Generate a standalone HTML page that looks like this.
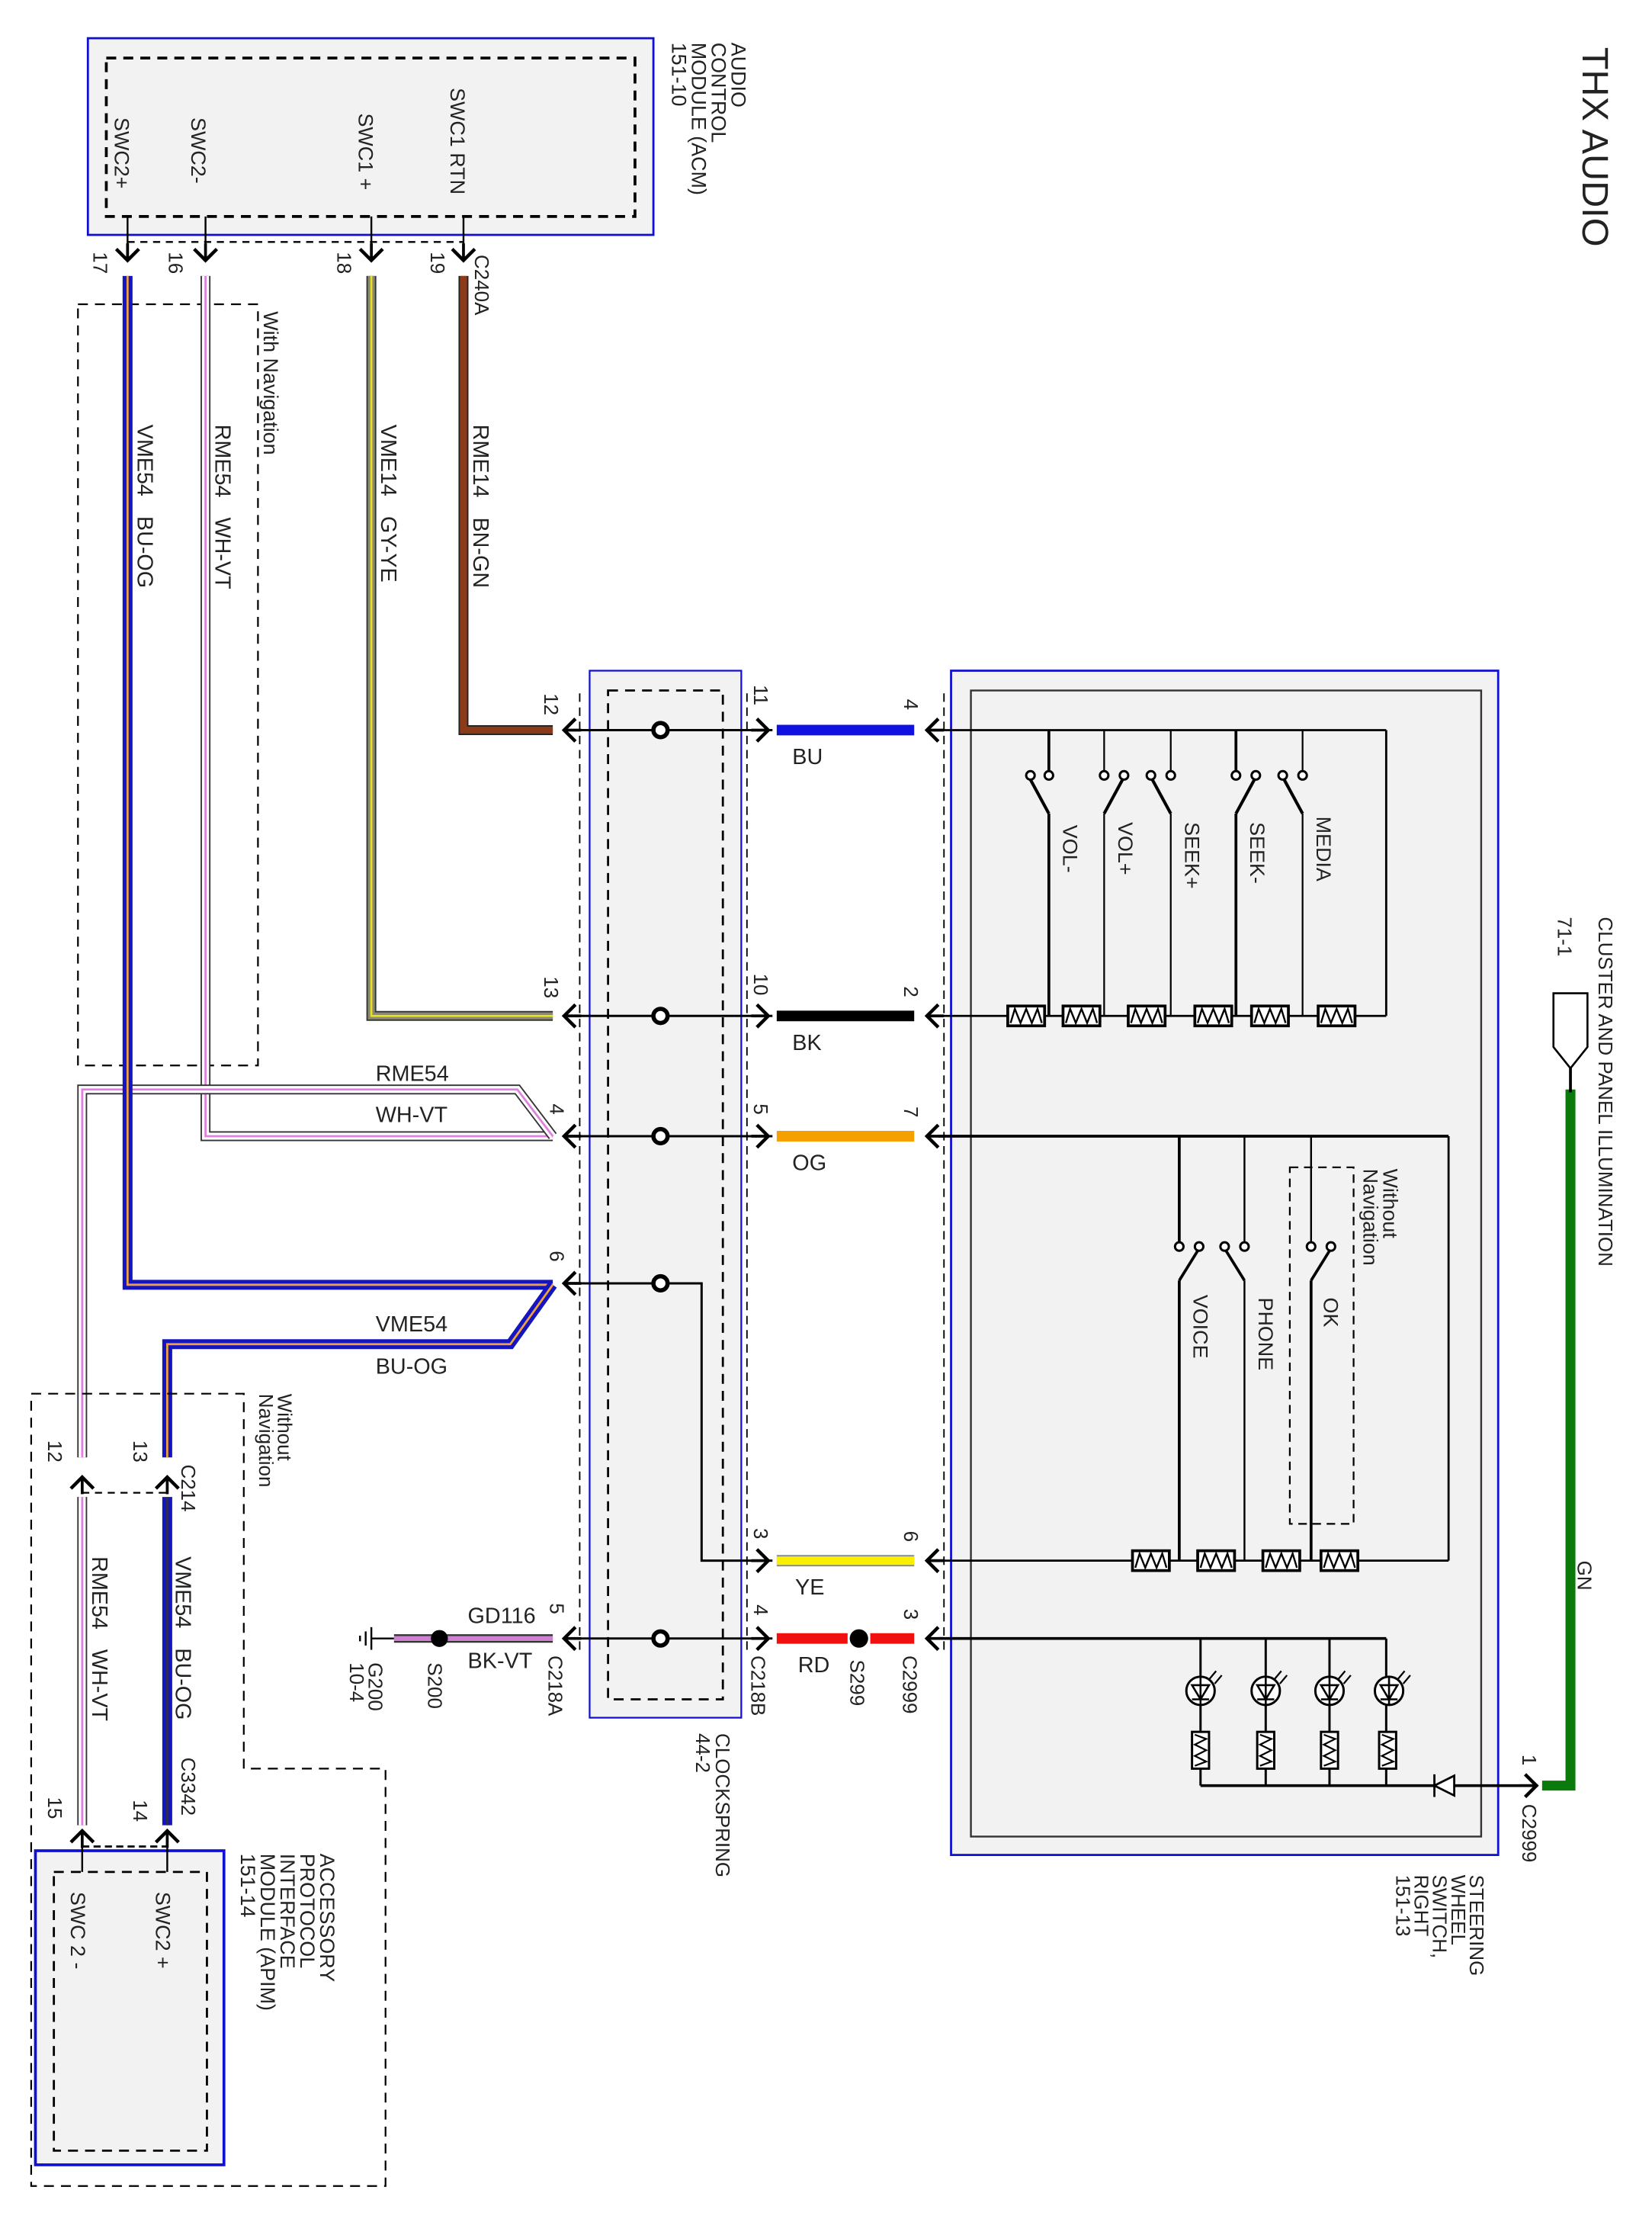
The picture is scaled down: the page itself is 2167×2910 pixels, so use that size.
<!DOCTYPE html>
<html><head><meta charset="utf-8"><style>
html,body{margin:0;padding:0;background:#fff;}
svg{display:block;}
text{font-family:"Liberation Sans",sans-serif;fill:#222;}
</style></head><body>
<svg width="2167" height="2910" viewBox="0 0 1159.7 1557.3" xmlns="http://www.w3.org/2000/svg">
<defs>
<g id="res"><rect x="-13" y="-7" width="26" height="14" fill="#fff" stroke="#000" stroke-width="2"/><polyline points="-11,5 -8,-5 -4,5 0,-5 4,5 8,-5 11,5" fill="none" stroke="#000" stroke-width="1.3"/></g>
<g id="resv"><rect x="-6" y="-13" width="12" height="26" fill="#fff" stroke="#000" stroke-width="1.6"/><polyline points="-4,-11 4,-8 -4,-4 4,0 -4,4 4,8 -4,11" fill="none" stroke="#000" stroke-width="1.2"/></g>
<g id="cl"><polyline points="8,-8 0,0 8,8" fill="none" stroke="#000" stroke-width="2.4"/><line x1="0" y1="0" x2="12" y2="0" stroke="#000" stroke-width="2"/></g>
<g id="cr"><polyline points="-8,-8 0,0 -8,8" fill="none" stroke="#000" stroke-width="2.4"/><line x1="0" y1="0" x2="-12" y2="0" stroke="#000" stroke-width="2"/></g>
<g id="cd"><polyline points="-8,-8 0,0 8,-8" fill="none" stroke="#000" stroke-width="2.4"/><line x1="0" y1="0" x2="0" y2="-12" stroke="#000" stroke-width="2"/></g>
<g id="cu"><polyline points="-8,8 0,0 8,8" fill="none" stroke="#000" stroke-width="2.4"/><line x1="0" y1="0" x2="0" y2="12" stroke="#000" stroke-width="2"/></g>
<g id="led"><circle cx="0" cy="0" r="10" fill="#fff" stroke="#000" stroke-width="1.6"/><polygon points="-6,-4 6,-4 0,6" fill="none" stroke="#000" stroke-width="1.4"/><line x1="-6" y1="6" x2="6" y2="6" stroke="#000" stroke-width="1.4"/><line x1="0" y1="-10" x2="0" y2="10" stroke="#000" stroke-width="1.4"/><line x1="6" y1="-8" x2="11" y2="-14" stroke="#000" stroke-width="1.2"/><line x1="10" y1="-5" x2="15" y2="-11" stroke="#000" stroke-width="1.2"/></g>
</defs>

<text transform="translate(1111,33) rotate(90)" font-size="26">THX AUDIO</text>

<g transform="scale(0.995,0.993)">
<rect x="62" y="27" width="399" height="139" fill="#f2f2f2" stroke="#1010d0" stroke-width="1.5"/>
<rect x="75" y="41" width="373" height="112" fill="none" stroke="#000" stroke-width="2" stroke-dasharray="7,5"/>
<g font-size="14.5">
<text transform="translate(516,30) rotate(90)">AUDIO</text>
<text transform="translate(502,30) rotate(90)">CONTROL</text>
<text transform="translate(488,30) rotate(90)">MODULE (ACM)</text>
<text transform="translate(474,30) rotate(90)">151-10</text>
<text transform="translate(81,83) rotate(90)">SWC2+</text>
<text transform="translate(135,83) rotate(90)">SWC2-</text>
<text transform="translate(253,80) rotate(90)">SWC1 +</text>
<text transform="translate(318,62) rotate(90)">SWC1 RTN</text>
</g>
<g stroke="#000" stroke-width="1.3">
<line x1="90" y1="153" x2="90" y2="182"/><line x1="145" y1="153" x2="145" y2="182"/>
<line x1="262" y1="153" x2="262" y2="182"/><line x1="327" y1="153" x2="327" y2="182"/>
</g>
<line x1="90" y1="171" x2="327" y2="171" stroke="#000" stroke-width="1.3" stroke-dasharray="5,4"/>
<use href="#cd" x="90" y="184"/><use href="#cd" x="145" y="184"/><use href="#cd" x="262" y="184"/><use href="#cd" x="327" y="184"/>
<g font-size="14">
<text transform="translate(66,178) rotate(90)">17</text>
<text transform="translate(119,178) rotate(90)">16</text>
<text transform="translate(238,178) rotate(90)">18</text>
<text transform="translate(304,178) rotate(90)">19</text>
<text transform="translate(335,180) rotate(90)">C240A</text>
</g>

<rect x="55" y="215" width="127" height="538" fill="none" stroke="#000" stroke-width="1.2" stroke-dasharray="7,5"/>
<text transform="translate(186,220) rotate(90)" font-size="14.5">With Navigation</text>

<polyline points="327,195 327,516 390,516" fill="none" stroke="#222" stroke-width="7"/>
<polyline points="327,195 327,516 390,516" fill="none" stroke="#8b3a1a" stroke-width="5"/>
<polyline points="262,195 262,718 390,718" fill="none" stroke="#333" stroke-width="7"/>
<polyline points="262,195 262,718 390,718" fill="none" stroke="#8a8a70" stroke-width="5"/>
<polyline points="262,195 262,718 390,718" fill="none" stroke="#e8e020" stroke-width="1.4"/>
<polyline points="145,195 145,803 390,803" fill="none" stroke="#333" stroke-width="7"/>
<polyline points="145,195 145,803 390,803" fill="none" stroke="#fff" stroke-width="5"/>
<polyline points="145,195 145,803 390,803" fill="none" stroke="#e080e0" stroke-width="1.5"/>
<polyline points="58,1030 58,770 365,770 390,803" fill="none" stroke="#333" stroke-width="7"/>
<polyline points="58,1030 58,770 365,770 390,803" fill="none" stroke="#fff" stroke-width="5"/>
<polyline points="58,1030 58,770 365,770 390,803" fill="none" stroke="#e080e0" stroke-width="1.5"/>
<polyline points="90,195 90,908 390,908" fill="none" stroke="#1515c0" stroke-width="7"/>
<polyline points="90,195 90,908 390,908" fill="none" stroke="#f0a040" stroke-width="1.5"/>
<polyline points="118,1030 118,950 360,950 390,908" fill="none" stroke="#1515c0" stroke-width="7"/>
<polyline points="118,1030 118,950 360,950 390,908" fill="none" stroke="#f0a040" stroke-width="1.5"/>

<g font-size="15.5">
<text transform="translate(97,300) rotate(90)">VME54<tspan dx="14">BU-OG</tspan></text>
<text transform="translate(152,300) rotate(90)">RME54<tspan dx="14">WH-VT</tspan></text>
<text transform="translate(269,300) rotate(90)">VME14<tspan dx="14">GY-YE</tspan></text>
<text transform="translate(334,300) rotate(90)">RME14<tspan dx="14">BN-GN</tspan></text>
<text x="265" y="764">RME54</text>
<text x="265" y="793">WH-VT</text>
<text x="265" y="941">VME54</text>
<text x="265" y="971">BU-OG</text>
</g>

<rect x="416" y="474" width="107" height="740" fill="#f2f2f2" stroke="#1010d0" stroke-width="1.2"/>
<rect x="429" y="488" width="81" height="713" fill="none" stroke="#000" stroke-width="1.5" stroke-dasharray="7,5"/>
<line x1="409" y1="490" x2="409" y2="1170" stroke="#000" stroke-width="1" stroke-dasharray="6,4"/>
<line x1="527" y1="490" x2="527" y2="1170" stroke="#000" stroke-width="1" stroke-dasharray="6,4"/>
<line x1="666" y1="490" x2="666" y2="1170" stroke="#000" stroke-width="1" stroke-dasharray="6,4"/>
<g stroke="#000" stroke-width="1.6" fill="none">
<line x1="400" y1="516" x2="545" y2="516"/>
<line x1="400" y1="718" x2="545" y2="718"/>
<line x1="400" y1="803" x2="545" y2="803"/>
<polyline points="400,907 495,907 495,1103 545,1103"/>
<line x1="400" y1="1158" x2="545" y2="1158"/>
</g>
<g fill="#fff" stroke="#000" stroke-width="3">
<circle cx="466" cy="516" r="5"/><circle cx="466" cy="718" r="5"/><circle cx="466" cy="803" r="5"/><circle cx="466" cy="907" r="5"/><circle cx="466" cy="1158" r="5"/>
</g>
<use href="#cl" x="398" y="516"/><use href="#cl" x="398" y="718"/><use href="#cl" x="398" y="803"/><use href="#cl" x="398" y="907"/><use href="#cl" x="398" y="1158"/>
<use href="#cr" x="542" y="516"/><use href="#cr" x="542" y="718"/><use href="#cr" x="542" y="803"/><use href="#cr" x="542" y="1103"/><use href="#cr" x="542" y="1158"/>
<g font-size="14">
<text transform="translate(384,490) rotate(90)">12</text>
<text transform="translate(384,690) rotate(90)">13</text>
<text transform="translate(388,780) rotate(90)">4</text>
<text transform="translate(388,884) rotate(90)">6</text>
<text transform="translate(388,1133) rotate(90)">5</text>
<text transform="translate(532,484) rotate(90)">11</text>
<text transform="translate(532,688) rotate(90)">10</text>
<text transform="translate(532,780) rotate(90)">5</text>
<text transform="translate(532,1080) rotate(90)">3</text>
<text transform="translate(532,1134) rotate(90)">4</text>
<text transform="translate(387,1170) rotate(90)">C218A</text>
<text transform="translate(530,1170) rotate(90)">C218B</text>
<text transform="translate(505,1225) rotate(90)">CLOCKSPRING</text>
<text transform="translate(491,1225) rotate(90)">44-2</text>
</g>

<g stroke="#000" stroke-width="1.3">
<line x1="262" y1="1158" x2="278" y2="1158"/>
<line x1="262" y1="1150" x2="262" y2="1166"/>
<line x1="258" y1="1153" x2="258" y2="1163"/>
<line x1="254" y1="1156" x2="254" y2="1160"/>
</g>
<line x1="278" y1="1158" x2="390" y2="1158" stroke="#333" stroke-width="6"/>
<line x1="278" y1="1158" x2="390" y2="1158" stroke="#d080d0" stroke-width="3.5"/>
<circle cx="310" cy="1158" r="6" fill="#000"/>
<g font-size="15.5">
<text x="330" y="1147">GD116</text>
<text x="330" y="1179">BK-VT</text>
</g>
<g font-size="14">
<text transform="translate(260,1175) rotate(90)">G200</text>
<text transform="translate(247,1175) rotate(90)">10-4</text>
<text transform="translate(302,1175) rotate(90)">S200</text>
</g>

<line x1="548" y1="516" x2="645" y2="516" stroke="#1010e0" stroke-width="7.5"/>
<line x1="548" y1="718" x2="645" y2="718" stroke="#000" stroke-width="7.5"/>
<line x1="548" y1="803" x2="645" y2="803" stroke="#f5a000" stroke-width="7.5"/>
<line x1="548" y1="1103" x2="645" y2="1103" stroke="#888" stroke-width="8"/>
<line x1="548" y1="1103" x2="645" y2="1103" stroke="#f8f000" stroke-width="6"/>
<line x1="548" y1="1158" x2="598" y2="1158" stroke="#f01010" stroke-width="7.5"/>
<line x1="614" y1="1158" x2="645" y2="1158" stroke="#f01010" stroke-width="7.5"/>
<circle cx="606" cy="1158" r="6.5" fill="#000"/>
<g font-size="15.5">
<text x="559" y="540">BU</text>
<text x="559" y="742">BK</text>
<text x="559" y="827">OG</text>
<text x="561" y="1127">YE</text>
<text x="563" y="1182">RD</text>
</g>
<g font-size="14">
<text transform="translate(638,494) rotate(90)">4</text>
<text transform="translate(638,697) rotate(90)">2</text>
<text transform="translate(638,782) rotate(90)">7</text>
<text transform="translate(638,1082) rotate(90)">6</text>
<text transform="translate(638,1137) rotate(90)">3</text>
<text transform="translate(600,1173) rotate(90)">S299</text>
<text transform="translate(637,1170) rotate(90)">C2999</text>
</g>
<use href="#cl" x="654" y="516"/><use href="#cl" x="654" y="718"/><use href="#cl" x="654" y="803"/><use href="#cl" x="654" y="1103"/><use href="#cl" x="654" y="1158"/>

<rect x="671" y="474" width="386" height="837" fill="#f2f2f2" stroke="#1010d0" stroke-width="1.5"/>
<rect x="685" y="488" width="360" height="810" fill="none" stroke="#333" stroke-width="1.3"/>
<g font-size="14">
<text transform="translate(1037,1325) rotate(90)">STEERING</text>
<text transform="translate(1024,1325) rotate(90)">WHEEL</text>
<text transform="translate(1011,1325) rotate(90)">SWITCH,</text>
<text transform="translate(998,1325) rotate(90)">RIGHT</text>
<text transform="translate(985,1325) rotate(90)">151-13</text>
</g>
<g stroke="#000" fill="none">
<line x1="662" y1="516" x2="978" y2="516" stroke-width="1.5"/>
<line x1="978" y1="516" x2="978" y2="718" stroke-width="1.5"/>
<line x1="662" y1="718" x2="978" y2="718" stroke-width="1.5"/>
<line x1="740" y1="516" x2="740" y2="545" stroke-width="2"/>
<line x1="779" y1="516" x2="779" y2="545" stroke-width="1.2"/>
<line x1="826" y1="516" x2="826" y2="545" stroke-width="1.2"/>
<line x1="872" y1="516" x2="872" y2="545" stroke-width="2"/>
<line x1="919" y1="516" x2="919" y2="545" stroke-width="1.2"/>
<line x1="740" y1="575" x2="740" y2="718" stroke-width="2"/>
<line x1="779" y1="575" x2="779" y2="718" stroke-width="1.2"/>
<line x1="826" y1="575" x2="826" y2="718" stroke-width="1.2"/>
<line x1="872" y1="575" x2="872" y2="718" stroke-width="2"/>
<line x1="919" y1="575" x2="919" y2="718" stroke-width="1.2"/>
<line x1="740" y1="575" x2="727" y2="551" stroke-width="2.2"/>
<line x1="779" y1="575" x2="792" y2="551" stroke-width="2.2"/>
<line x1="826" y1="575" x2="813" y2="551" stroke-width="2.2"/>
<line x1="872" y1="575" x2="885" y2="551" stroke-width="2.2"/>
<line x1="919" y1="575" x2="906" y2="551" stroke-width="2.2"/>
</g>
<g fill="#fff" stroke="#000" stroke-width="1.6">
<circle cx="727" cy="548" r="3"/><circle cx="740" cy="548" r="3"/>
<circle cx="779" cy="548" r="3"/><circle cx="793" cy="548" r="3"/>
<circle cx="812" cy="548" r="3"/><circle cx="826" cy="548" r="3"/>
<circle cx="872" cy="548" r="3"/><circle cx="886" cy="548" r="3"/>
<circle cx="905" cy="548" r="3"/><circle cx="919" cy="548" r="3"/>
</g>
<use href="#res" x="724" y="718"/><use href="#res" x="763" y="718"/><use href="#res" x="809" y="718"/><use href="#res" x="856" y="718"/><use href="#res" x="896" y="718"/><use href="#res" x="943" y="718"/>
<g font-size="14.5">
<text transform="translate(750,583) rotate(90)">VOL-</text>
<text transform="translate(789,581) rotate(90)">VOL+</text>
<text transform="translate(836,581) rotate(90)">SEEK+</text>
<text transform="translate(882,581) rotate(90)">SEEK-</text>
<text transform="translate(929,577) rotate(90)">MEDIA</text>
</g>
<g stroke="#000" fill="none">
<line x1="662" y1="803" x2="1022" y2="803" stroke-width="2"/>
<line x1="1022" y1="803" x2="1022" y2="1103" stroke-width="1.5"/>
<line x1="662" y1="1103" x2="1022" y2="1103" stroke-width="1.5"/>
<line x1="832" y1="803" x2="832" y2="878" stroke-width="2"/>
<line x1="878" y1="803" x2="878" y2="878" stroke-width="1.3"/>
<line x1="925" y1="803" x2="925" y2="878" stroke-width="1.3"/>
<line x1="832" y1="905" x2="832" y2="1103" stroke-width="2"/>
<line x1="878" y1="905" x2="878" y2="1103" stroke-width="1.3"/>
<line x1="925" y1="905" x2="925" y2="1103" stroke-width="2"/>
<line x1="832" y1="905" x2="845" y2="884" stroke-width="2"/>
<line x1="878" y1="905" x2="865" y2="884" stroke-width="2"/>
<line x1="925" y1="905" x2="938" y2="884" stroke-width="2"/>
</g>
<g fill="#fff" stroke="#000" stroke-width="1.6">
<circle cx="832" cy="881" r="3"/><circle cx="846" cy="881" r="3"/>
<circle cx="864" cy="881" r="3"/><circle cx="878" cy="881" r="3"/>
<circle cx="925" cy="881" r="3"/><circle cx="939" cy="881" r="3"/>
</g>
<rect x="910" y="825" width="45" height="252" fill="none" stroke="#000" stroke-width="1.2" stroke-dasharray="6,4"/>
<use href="#res" x="812" y="1103"/><use href="#res" x="858" y="1103"/><use href="#res" x="904" y="1103"/><use href="#res" x="945" y="1103"/>
<g font-size="14.5">
<text transform="translate(842,915) rotate(90)">VOICE</text>
<text transform="translate(888,917) rotate(90)">PHONE</text>
<text transform="translate(934,917) rotate(90)">OK</text>
<text transform="translate(976,826) rotate(90)">Without</text>
<text transform="translate(962,826) rotate(90)">Navigation</text>
</g>
<g stroke="#000" fill="none" stroke-width="1.6">
<line x1="662" y1="1158" x2="978" y2="1158" stroke-width="2"/>
<line x1="847" y1="1158" x2="847" y2="1262"/>
<line x1="893" y1="1158" x2="893" y2="1262"/>
<line x1="938" y1="1158" x2="938" y2="1262"/>
<line x1="978" y1="1158" x2="978" y2="1262"/>
<line x1="847" y1="1262" x2="1085" y2="1262" stroke-width="2"/>
</g>
<use href="#led" x="847" y="1195"/><use href="#led" x="893" y="1195"/><use href="#led" x="938" y="1195"/><use href="#led" x="980" y="1195"/>
<use href="#resv" x="847" y="1237"/><use href="#resv" x="893" y="1237"/><use href="#resv" x="938" y="1237"/><use href="#resv" x="979" y="1237"/>
<polygon points="1026,1255 1026,1269 1012,1262" fill="#fff" stroke="#000" stroke-width="1.5"/>
<line x1="1012" y1="1254" x2="1012" y2="1270" stroke="#000" stroke-width="1.5"/>
<use href="#cr" x="1084" y="1262"/>
<polyline points="1088,1262 1108,1262 1108,770" fill="none" stroke="#0a7a0a" stroke-width="7"/>
<line x1="1108" y1="755" x2="1108" y2="772" stroke="#000" stroke-width="2"/>
<polygon points="1096,702 1120,702 1120,740 1108,755 1096,740" fill="#fff" stroke="#000" stroke-width="1.4"/>
<g font-size="14">
<text transform="translate(1074,1240) rotate(90)">1</text>
<text transform="translate(1074,1275) rotate(90)">C2999</text>
<text transform="translate(1113,1103) rotate(90)">GN</text>
<text transform="translate(1099,648) rotate(90)">71-1</text>
<text transform="translate(1128,648) rotate(90)">CLUSTER AND PANEL ILLUMINATION</text>
</g>

<polyline points="22,985 172,985 172,1250 272,1250 272,1545 22,1545 22,985" fill="none" stroke="#000" stroke-width="1.2" stroke-dasharray="7,5"/>
<g font-size="14">
<text transform="translate(196,985) rotate(90)">Without</text>
<text transform="translate(183,985) rotate(90)">Navigation</text>
</g>
<use href="#cu" x="58" y="1044"/><use href="#cu" x="118" y="1044"/>
<line x1="58" y1="1055" x2="118" y2="1055" stroke="#000" stroke-width="1.2" stroke-dasharray="5,4"/>
<polyline points="58,1058 58,1290" fill="none" stroke="#333" stroke-width="7"/>
<polyline points="58,1058 58,1290" fill="none" stroke="#fff" stroke-width="5"/>
<polyline points="58,1058 58,1290" fill="none" stroke="#e080e0" stroke-width="1.5"/>
<polyline points="118,1058 118,1290" fill="none" stroke="#1515c0" stroke-width="7"/>
<polyline points="118,1058 118,1290" fill="none" stroke="#333" stroke-width="1.3"/>
<g font-size="14">
<text transform="translate(34,1018) rotate(90)">12</text>
<text transform="translate(94,1018) rotate(90)">13</text>
<text transform="translate(128,1035) rotate(90)">C214</text>
<text transform="translate(34,1270) rotate(90)">15</text>
<text transform="translate(94,1272) rotate(90)">14</text>
<text transform="translate(128,1242) rotate(90)">C3342</text>
</g>
<g font-size="15.5">
<text transform="translate(65,1100) rotate(90)">RME54<tspan dx="14">WH-VT</tspan></text>
<text transform="translate(124,1100) rotate(90)">VME54<tspan dx="14">BU-OG</tspan></text>
</g>
<use href="#cu" x="58" y="1294"/><use href="#cu" x="118" y="1294"/>
<line x1="58" y1="1305" x2="118" y2="1305" stroke="#000" stroke-width="1.5" stroke-dasharray="5,3"/>
<rect x="25" y="1308" width="133" height="222" fill="#f2f2f2" stroke="#1010d0" stroke-width="2"/>
<rect x="38" y="1323" width="108" height="197" fill="none" stroke="#000" stroke-width="1.5" stroke-dasharray="7,5"/>
<line x1="58" y1="1300" x2="58" y2="1323" stroke="#000" stroke-width="1.3"/>
<line x1="118" y1="1300" x2="118" y2="1323" stroke="#000" stroke-width="1.3"/>
<g font-size="14.5">
<text transform="translate(110,1337) rotate(90)">SWC2 +</text>
<text transform="translate(50,1337) rotate(90)">SWC 2 -</text>
<text transform="translate(226,1310) rotate(90)">ACCESSORY</text>
<text transform="translate(212,1310) rotate(90)">PROTOCOL</text>
<text transform="translate(198,1310) rotate(90)">INTERFACE</text>
<text transform="translate(184,1310) rotate(90)">MODULE (APIM)</text>
<text transform="translate(170,1310) rotate(90)">151-14</text>
</g>
</g>
</svg>
</body></html>
